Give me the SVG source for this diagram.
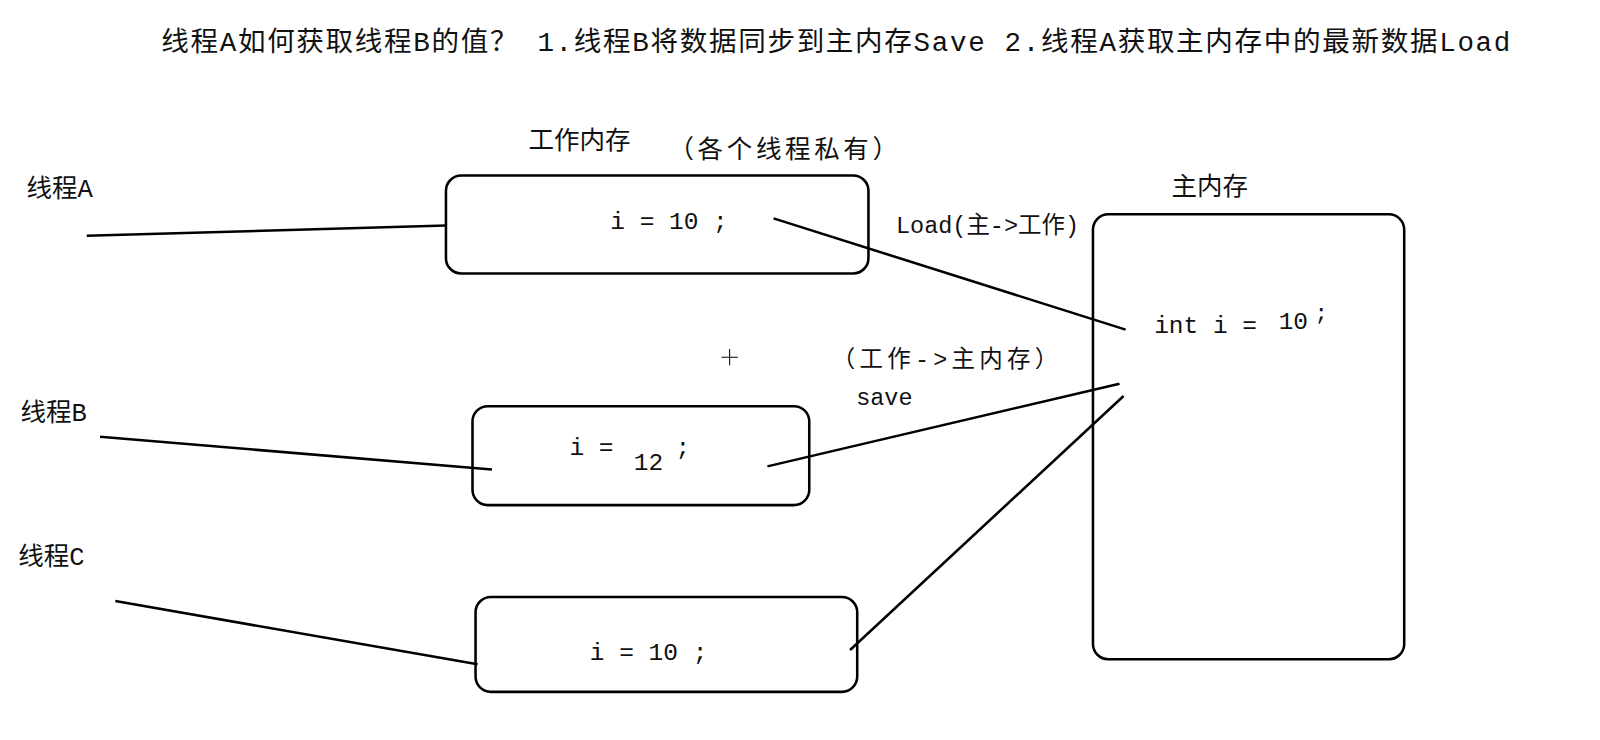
<svg xmlns="http://www.w3.org/2000/svg" width="1600" height="740" viewBox="0 0 1600 740">
<style>
.t{font-family:"Liberation Mono","Noto Sans CJK SC",monospace;fill:#111}
.box{fill:none;stroke:#000;stroke-width:2.5}
.ln{stroke:#000;stroke-width:2.5;fill:none}
</style>
<rect width="1600" height="740" fill="#fff"/>
<g transform="scale(1.0205)">
<text class="t" x="158" y="50" font-size="27" textLength="1322" lengthAdjust="spacing">线程A如何获取线程B的值？  1.线程B将数据同步到主内存Save  2.线程A获取主内存中的最新数据Load</text>
<g id="labels">
<text class="t" x="26" y="193" font-size="25">线程A</text>
<text class="t" x="20" y="413" font-size="25">线程B</text>
<text class="t" x="18" y="554" font-size="25">线程C</text>
<text class="t" x="518" y="146" font-size="25">工作内存</text>
<text class="t" x="655" y="155" font-size="25" textLength="225">（各个线程私有）</text>
<text class="t" x="878" y="228" font-size="23">Load(主-&gt;工作)</text>
<text class="t" x="815" y="360" font-size="23" textLength="222">（工作-&gt;主内存）</text>
<text class="t" x="839" y="397" font-size="23">save</text>
<text class="t" x="1148" y="191" font-size="25">主内存</text>
<path d="M707 350h16M715 342v16" stroke="#000" stroke-width="1"/>
</g>
<g id="nodeA"><rect class="box" x="437" y="172" width="414" height="96" rx="15"/><text class="t" x="598" y="224" font-size="24">i = 10 ;</text></g>
<g id="nodeB"><rect class="box" x="463" y="398" width="330" height="97" rx="15"/><text class="t" x="558" y="446" font-size="24">i =</text><text class="t" x="621" y="461" font-size="24">12</text><text class="t" x="662" y="446" font-size="24">;</text></g>
<g id="nodeC"><rect class="box" x="466" y="585" width="374" height="93" rx="15"/><text class="t" x="578" y="647" font-size="24">i = 10 ;</text></g>
<g id="main"><rect class="box" x="1071" y="210" width="305" height="436" rx="15"/><text class="t" x="1131" y="326" font-size="24">int i =</text><text class="t" x="1253" y="322" font-size="24">10</text><text class="t" x="1288" y="314" font-size="22">;</text></g>
<g id="connectors">
<path class="ln" d="M85 231L437 221"/>
<path class="ln" d="M758 214L1103 323"/>
<path class="ln" d="M98 428L482 460"/>
<path class="ln" d="M752 457L1097 376"/>
<path class="ln" d="M113 589L468 651"/>
<path class="ln" d="M833 637L1101 388"/>
</g>
</g>
</svg>
